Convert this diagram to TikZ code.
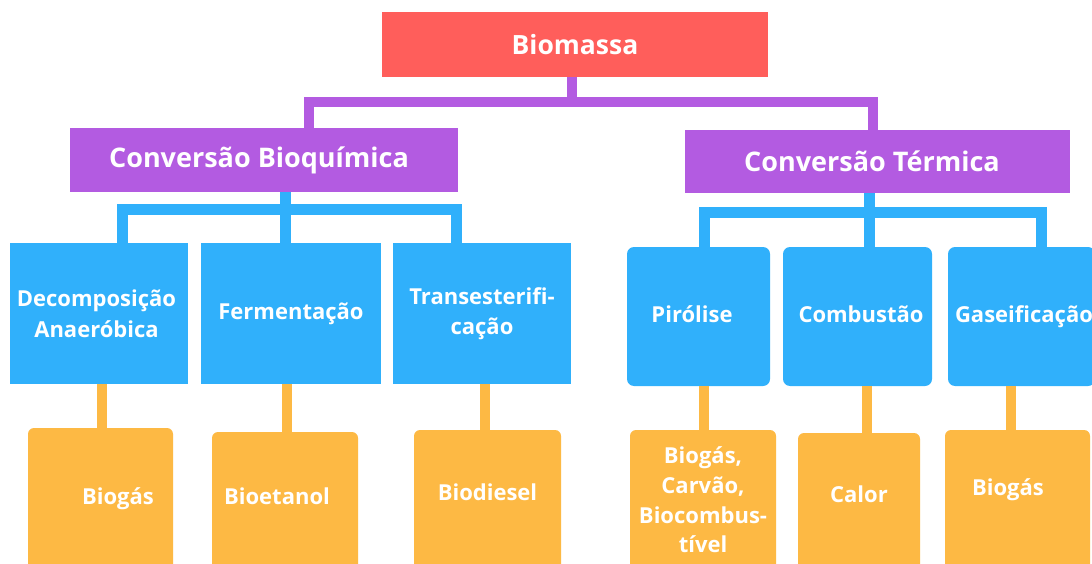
\documentclass[tikz,border=0pt]{standalone}
\usepackage{fontspec}
\setmainfont{Open Sans}
\definecolor{cRed}{HTML}{FF5E5B}
\definecolor{cPurple}{HTML}{B35BE1}
\definecolor{cBlue}{HTML}{30B0FB}
\definecolor{cOrange}{HTML}{FDB944}
\begin{document}
\begin{tikzpicture}[x=1pt,y=-1pt,
  box/.style={inner sep=0pt, text=white, align=center, anchor=center},
  redbox/.style={box, fill=cRed, font=\bfseries\fontsize{26.5}{30}\selectfont},
  purpbox/.style={box, fill=cPurple, font=\bfseries\fontsize{27}{30}\selectfont},
  bluebox/.style={box, fill=cBlue, font=\bfseries\fontsize{22}{30.5}\selectfont},
  rbluebox/.style={bluebox, rounded corners=7pt},
  orbox/.style={box, fill=cOrange, rounded corners=6pt, font=\bfseries\fontsize{22}{29.7}\selectfont},
  pconn/.style={draw=cPurple, line width=10pt, line join=miter},
  bconn/.style={draw=cBlue, line width=11pt, line join=miter},
  oconn/.style={draw=cOrange, line width=10pt}
]
\clip (0,0) rectangle (1092,564);
\fill[white] (0,0) rectangle (1092,564);

% top level
\node[redbox, minimum width=386pt, minimum height=65pt] (bio) at (575,44.5) {Biomassa};

% second level
\node[purpbox, minimum width=388pt, minimum height=64pt] (bioq) at (264,160) {\hspace*{-10pt}Conversão Bioquímica};
\node[purpbox, minimum width=385pt, minimum height=63pt] (term) at (877.5,161.5) {\hspace*{-11pt}Conversão Térmica};

% third level, left
\node[bluebox, minimum width=178pt, minimum height=141pt] (dec) at (99,313.5) {\hspace*{-5pt}Decomposição\\\hspace*{-5pt}Anaeróbica};
\node[bluebox, minimum width=180pt, minimum height=141pt] (fer) at (291,313.5) {\raisebox{2pt}{Fermentação}};
\node[bluebox, minimum width=178pt, minimum height=141pt] (tra) at (482,313.5) {Transesterifi-\\cação};

% third level, right
\node[rbluebox, minimum width=143pt, minimum height=139pt] (pir) at (698.5,316.5) {\hspace*{-13pt}\raisebox{4pt}{Pirólise}};
\node[rbluebox, minimum width=149pt, minimum height=139pt] (com) at (857.5,316.5) {\hspace*{7pt}\raisebox{4pt}{Combustão}};
\node[rbluebox, minimum width=147pt, minimum height=139pt] (gas) at (1021.5,316.5) {\hspace*{5pt}\raisebox{4pt}{Gaseificação}};

% fourth level
\node[orbox, minimum width=145pt, minimum height=142pt] (o1) at (100.5,499) {\hspace*{35pt}Biogás};
\node[orbox, minimum width=146pt, minimum height=138pt] (o2) at (285,501) {\hspace*{-16pt}\raisebox{10pt}{Bioetanol}};
\node[orbox, minimum width=147pt, minimum height=140pt] (o3) at (487.5,500) {\raisebox{16pt}{Biodiesel}};
\node[orbox, minimum width=146pt, minimum height=140pt] (o4) at (703,500) {Biogás,\\Carvão,\\Biocombus-\\tível};
\node[orbox, minimum width=122pt, minimum height=137pt] (o5) at (859,501.5) {\raisebox{15pt}{Calor}};
\node[orbox, minimum width=145pt, minimum height=140pt] (o6) at (1017.5,500) {\hspace*{-19pt}\raisebox{26pt}{Biogás}};

% purple connectors
\coordinate (pj) at ([xshift=-3pt]bio.south |- 0,102);
\draw[pconn] ([xshift=-3pt]bio.south) -- ++(0,30);
\draw[pconn] ([xshift=45pt]bioq.north) |- (pj);
\draw[pconn] ([xshift=-4.5pt]term.north) |- (pj);

% blue connectors, left
\draw[bconn] ([xshift=21pt]bioq.south) -- ([xshift=-6pt]fer.north);
\draw[bconn] ([xshift=23pt]dec.north) -- ++(0,-33.5) -| ([xshift=-26pt]tra.north);

% blue connectors, right
\draw[bconn] ([xshift=-8.5pt]term.south) -- ([xshift=11.5pt]com.north);
\draw[bconn] ([xshift=5.5pt]pir.north) -- ++(0,-34) -| ([xshift=19.5pt]gas.north);

% orange connectors
\draw[oconn] ([xshift=3pt]dec.south) -- ([xshift=3pt]dec.south |- o1.north);
\draw[oconn] ([xshift=-4pt]fer.south) -- ([xshift=-4pt]fer.south |- o2.north);
\draw[oconn] ([xshift=3pt]tra.south) -- ([xshift=3pt]tra.south |- o3.north);
\draw[oconn] ([xshift=5.5pt]pir.south) -- ([xshift=5.5pt]pir.south |- o4.north);
\draw[oconn] ([xshift=9.5pt]com.south) -- ([xshift=9.5pt]com.south |- o5.north);
\draw[oconn] ([xshift=-10.5pt]gas.south) -- ([xshift=-10.5pt]gas.south |- o6.north);
\end{tikzpicture}
\end{document}
